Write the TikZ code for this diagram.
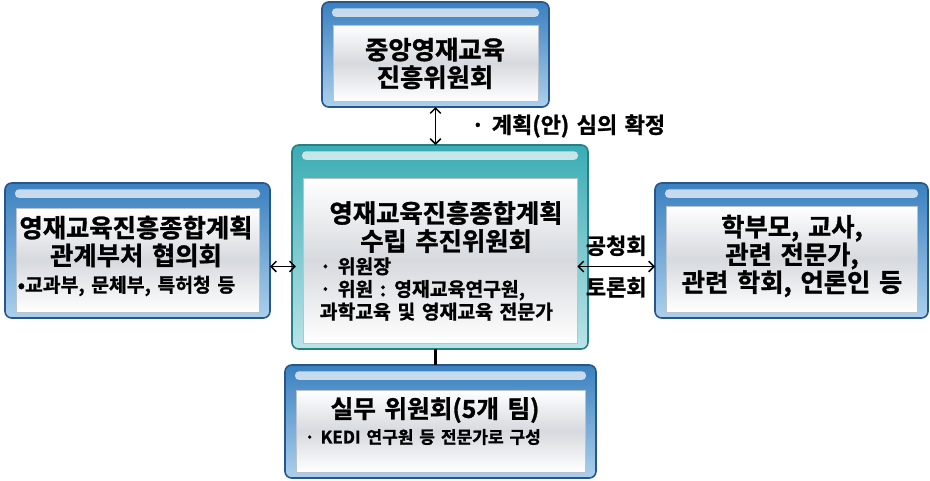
\documentclass[tikz,border=0pt]{standalone}
\usepackage{fontspec}
\setmainfont{Noto Sans CJK KR}[BoldFont={Noto Sans CJK KR Bold},
    BoldFeatures={FakeBold=1.2}, WordSpace=1.5]
\usetikzlibrary{arrows.meta}

% frame colours (blue side boxes, teal centre box)
\definecolor{skyTop}{RGB}{58,128,192}
\definecolor{skyBot}{RGB}{172,208,236}
\definecolor{skyLine}{RGB}{38,86,140}
\definecolor{seaTop}{RGB}{58,172,180}
\definecolor{seaBot}{RGB}{186,228,232}
\definecolor{seaLine}{RGB}{38,128,136}
\definecolor{panelMid}{RGB}{214,217,222}
\definecolor{panelLine}{RGB}{188,194,202}

\begin{document}
\begin{tikzpicture}[
    x=0.75pt, y=-0.75pt,
    % --- Styles ---
    boxframe/.style={draw=#1Line, line width=1.2pt, rounded corners=5pt,
        top color=#1Top, bottom color=#1Bot, inner sep=0pt, outer sep=0pt},
    % glossy stripe along the top of a frame
    glossbar/.style={fill=white, fill opacity=0.7, rounded corners=3pt,
        minimum height=6.5pt, inner sep=0pt, anchor=north},
    panel/.style={draw=panelLine, line width=0.6pt, top color=white,
        bottom color=white, middle color=panelMid, inner sep=0pt},
    title/.style={font=\bfseries\fontsize{19}{20.8}\selectfont, align=center},
    small/.style={font=\bfseries\fontsize{14.5}{17}\selectfont, align=left, anchor=west},
    note/.style={font=\bfseries\fontsize{16.5}{18}\selectfont},
    conn/.style={line width=1.1pt, {Straight Barb[length=4pt,width=8pt]}-{Straight Barb[length=4pt,width=8pt]}},
    link/.style={line width=2.2pt}
]
\useasboundingbox (0,0) rectangle (930,480);

%================ BOXES ================
% name / colour / centre x / centre y / width / height / panel top gap
\foreach \name/\kind/\cx/\cy/\w/\h/\t in {
    top/sky/435.5/54.5/227/105/23,
    mid/sea/440/247/296/204/33,
    left/sky/137.5/250.5/265/135/25,
    right/sky/791.5/250.5/273/135/23,
    bottom/sky/440.5/421.5/311/113/25} {

    \pgfmathsetmacro{\pw}{\w - 22}
    \pgfmathsetmacro{\ph}{\h - \t - 6}
    \pgfmathsetmacro{\py}{\cy + (\t - 6)/2}

    \node[boxframe=\kind, minimum width=\w*0.75pt, minimum height=\h*0.75pt]
        (\name) at (\cx,\cy) {};
    \node[glossbar, minimum width=(\w-20)*0.75pt] (\name-bar)
        at ([yshift=-4.5pt]\name.north) {};
    \node[panel, minimum width=\pw*0.75pt, minimum height=\ph*0.75pt]
        (\name-in) at (\cx,\py) {};
}

%================ TEXTS ================
\node[title] (top-title) at (435,63.5) {중앙영재교육\\진흥위원회};

\node[title, font=\bfseries\fontsize{19}{21}\selectfont] (mid-title)
    at (446,227) {영재교육진흥종합계획\\수립 추진위원회};
\node[small] (mid-list) at (315,289)
    {· 위원장\\· 위원 : 영재교육연구원,\\과학교육 및 영재교육 전문가};

\node[title] (left-title) at (136,241.5) {영재교육진흥종합계획\\관계부처 협의회};
\node[small] (left-list) at (13,286) {•교과부, 문체부, 특허청 등};

\node[title] (right-title) at (792,256) {학부모, 교사,\\관련 전문가,\\관련 학회, 언론인 등};

\node[title, font=\bfseries\fontsize{18.5}{20}\selectfont] (bottom-title)
    at (435,410) {실무 위원회(5개 팀)};
\node[small, font=\bfseries\fontsize{12.8}{15}\selectfont] (bottom-list)
    at (300,437) {· KEDI 연구원 등 전문가로 구성};

%================ CONNECTORS ================
\draw[conn] (top.south) -- (top.south |- mid.north)
    node[note, midway, right=23pt] (review) {· 계획(안) 심의 확정};

\draw[conn, shorten >=5pt] ([yshift=-12pt]left.east)
    -- ([yshift=-12pt]left.east -| mid-in.west);

\draw[conn] ([yshift=-12pt]right.west -| mid-in.east) -- ([yshift=-12pt]right.west)
    node[note, midway, above=4pt] (hearing) {공청회}
    node[note, midway, below=4pt] (debate) {토론회};

\draw[link] (mid.south -| top.south) -- (bottom.north -| top.south);

\end{tikzpicture}
\end{document}
